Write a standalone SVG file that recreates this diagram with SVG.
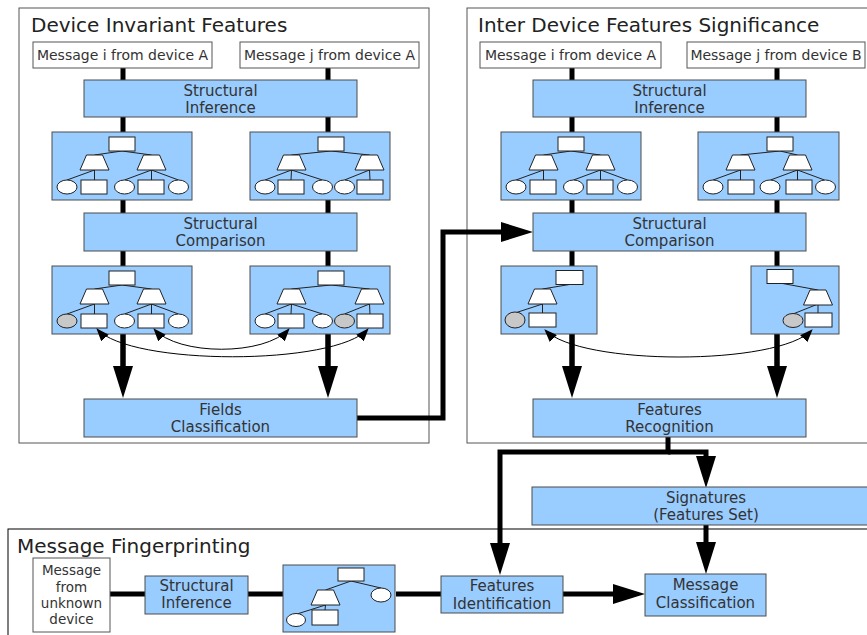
<svg xmlns="http://www.w3.org/2000/svg" xmlns:xlink="http://www.w3.org/1999/xlink" width="867" height="635" viewBox="0 0 867 635">
<style>
.frame{fill:#fff;stroke:#555;stroke-width:1}
.msg{fill:#fff;stroke:#555;stroke-width:1}
.blue{fill:#99ccff;stroke:#4d4d4d;stroke-width:1}
.tbox{fill:#99ccff;stroke:#4d4d4d;stroke-width:1}
.sh{fill:#fff;stroke:#222;stroke-width:1}
.gr{fill:#c8c8c8;stroke:#222;stroke-width:1}
.tl{fill:none;stroke:#222;stroke-width:1}
.thick{fill:none;stroke:#000;stroke-width:5;stroke-linejoin:miter}
.thin{fill:none;stroke:#000;stroke-width:1}
text{font-family:"DejaVu Sans","Noto Sans",sans-serif;fill:#333}
.title{font-size:20px;fill:#222}
.t14{font-size:14px}
.t15{font-size:15px;text-anchor:middle}
.t13{font-size:13.5px;text-anchor:middle}
</style>
<defs>
<polygon id="trap" points="0,15 29,15 22.5,0 6.5,0" class="sh"/>
<marker id="big" markerUnits="userSpaceOnUse" viewBox="0 0 32 20" markerWidth="32" markerHeight="20" refX="0" refY="10" orient="auto">
<path d="M0,0 L32,10 L0,20 z" fill="#000"/>
</marker>
<marker id="sm" markerUnits="userSpaceOnUse" viewBox="0 0 13 10" markerWidth="13" markerHeight="10" refX="12" refY="5" orient="auto-start-reverse">
<path d="M0,0 L13,5 L0,10 z" fill="#000"/>
</marker>
</defs>

<!-- frames -->
<g id="panel-device-invariant">
<rect class="frame" x="19" y="8" width="410" height="435"/>
<text class="title" x="31" y="32">Device Invariant Features</text>
</g>
<g id="panel-inter-device">
<rect class="frame" x="467" y="8" width="410" height="435"/>
<text class="title" x="478" y="32">Inter Device Features Significance</text>
</g>
<g id="panel-fingerprinting">
<rect class="frame" x="8" y="529" width="870" height="120" style="stroke:#000"/>
<text class="title" x="17" y="553">Message Fingerprinting</text>
</g>

<!-- connectors -->
<g id="connectors">
<path class="thick" d="M123,68 V366"/>
<path class="thick" d="M328,68 V366"/>
<path class="thick" d="M572,68 V366"/>
<path class="thick" d="M777,68 V366"/>
<path class="thick" d="M123,334 V366" marker-end="url(#big)"/>
<path class="thick" d="M328,334 V366" marker-end="url(#big)"/>
<path class="thick" d="M572,334 V366" marker-end="url(#big)"/>
<path class="thick" d="M777,334 V366" marker-end="url(#big)"/>
<path class="thick" d="M357,418 H443 V232 H501" marker-end="url(#big)"/>
<path class="thick" d="M668,437 V452 H500 V543" marker-end="url(#big)"/>
<path class="thick" d="M668,452 H706 V456" marker-end="url(#big)"/>
<path class="thick" d="M706,525 V542" marker-end="url(#big)"/>
<path class="thick" d="M563,594 H613" marker-end="url(#big)"/>
<path class="thick" d="M110,594 H146"/>
<path class="thick" d="M248,594 H283"/>
<path class="thick" d="M396,594 H441"/>
</g>

<!-- left panel nodes -->
<g id="msg-i-A-left"><rect class="msg" x="33" y="42" width="179" height="26"/><text class="t14" x="122.5" y="60" text-anchor="middle">Message i from device A</text></g>
<g id="msg-j-A-left"><rect class="msg" x="240" y="42" width="179" height="26"/><text class="t14" x="329.5" y="60" text-anchor="middle">Message j from device A</text></g>
<g id="si-left"><rect class="blue" x="84" y="80" width="273" height="37"/><text class="t15" x="220.5" y="95.5">Structural</text><text class="t15" x="220.5" y="113">Inference</text></g>

<g id="tree-l1a" transform="translate(52,132)">
<rect class="tbox" x="0" y="0" width="140" height="68"/>
<path class="tl" d="M70,19 L42.5,23 M70,19 L99.5,23 M42.5,38 L15,48 M42.5,38 L42.5,48 M99.5,38 L72.5,48 M99.5,38 L99.5,48 M99.5,38 L126.5,48"/>
<rect class="sh" x="57" y="5" width="26" height="14"/>
<use href="#trap" x="28" y="23"/><use href="#trap" x="85" y="23"/>
<ellipse class="sh" cx="15" cy="55" rx="10" ry="7"/><rect class="sh" x="29" y="48" width="26" height="14"/>
<ellipse class="sh" cx="72.5" cy="55" rx="10" ry="7"/><rect class="sh" x="86" y="48" width="26" height="14"/>
<ellipse class="sh" cx="126.5" cy="55" rx="10" ry="7"/>
</g>
<g id="tree-l1b" transform="translate(250,132)">
<rect class="tbox" x="0" y="0" width="140" height="68"/>
<path class="tl" d="M81,19 L41.5,23 M81,19 L119.5,23 M41.5,38 L15,48 M41.5,38 L41,48 M41.5,38 L72.5,48 M119.5,38 L94.5,48 M119.5,38 L120,48"/>
<rect class="sh" x="68" y="5" width="26" height="14"/>
<use href="#trap" x="27" y="23"/><use href="#trap" x="105" y="23"/>
<ellipse class="sh" cx="15" cy="55" rx="10" ry="7"/><rect class="sh" x="28" y="48" width="26" height="14"/>
<ellipse class="sh" cx="72.5" cy="55" rx="10" ry="7"/><ellipse class="sh" cx="94.5" cy="55" rx="10" ry="7"/>
<rect class="sh" x="107" y="48" width="26" height="14"/>
</g>

<g id="sc-left"><rect class="blue" x="84" y="213" width="273" height="38"/><text class="t15" x="220.5" y="228.5">Structural</text><text class="t15" x="220.5" y="246">Comparison</text></g>

<g id="tree-l2a" transform="translate(52,266)">
<rect class="tbox" x="0" y="0" width="140" height="68"/>
<path class="tl" d="M70,19 L42.5,23 M70,19 L99.5,23 M42.5,38 L15,48 M42.5,38 L42.5,48 M99.5,38 L72.5,48 M99.5,38 L99.5,48 M99.5,38 L126.5,48"/>
<rect class="sh" x="57" y="5" width="26" height="14"/>
<use href="#trap" x="28" y="23"/><use href="#trap" x="85" y="23"/>
<ellipse class="gr" cx="15" cy="55" rx="10" ry="7"/><rect class="sh" x="29" y="48" width="26" height="14"/>
<ellipse class="sh" cx="72.5" cy="55" rx="10" ry="7"/><rect class="sh" x="86" y="48" width="26" height="14"/>
<ellipse class="sh" cx="126.5" cy="55" rx="10" ry="7"/>
</g>
<g id="tree-l2b" transform="translate(250,266)">
<rect class="tbox" x="0" y="0" width="140" height="68"/>
<path class="tl" d="M81,19 L41.5,23 M81,19 L119.5,23 M41.5,38 L15,48 M41.5,38 L41,48 M41.5,38 L72.5,48 M119.5,38 L94.5,48 M119.5,38 L120,48"/>
<rect class="sh" x="68" y="5" width="26" height="14"/>
<use href="#trap" x="27" y="23"/><use href="#trap" x="105" y="23"/>
<ellipse class="sh" cx="15" cy="55" rx="10" ry="7"/><rect class="sh" x="28" y="48" width="26" height="14"/>
<ellipse class="sh" cx="72.5" cy="55" rx="10" ry="7"/><ellipse class="gr" cx="94.5" cy="55" rx="10" ry="7"/>
<rect class="sh" x="107" y="48" width="26" height="14"/>
</g>

<g id="links-left">
<path class="thin" d="M97,329 C130,366 335,366 368,329" marker-start="url(#sm)" marker-end="url(#sm)"/>
<path class="thin" d="M154,329 C178,356 265,356 289,329" marker-start="url(#sm)" marker-end="url(#sm)"/>
</g>

<g id="fields-classification"><rect class="blue" x="84" y="399" width="273" height="38"/><text class="t15" x="220.5" y="414.5">Fields</text><text class="t15" x="220.5" y="432">Classification</text></g>

<!-- right panel nodes -->
<g id="msg-i-A-right"><rect class="msg" x="480" y="42" width="181" height="26"/><text class="t14" x="570.5" y="60" text-anchor="middle">Message i from device A</text></g>
<g id="msg-j-B-right"><rect class="msg" x="687" y="42" width="178" height="26"/><text class="t14" x="776" y="60" text-anchor="middle">Message j from device B</text></g>
<g id="si-right"><rect class="blue" x="533" y="80" width="273" height="37"/><text class="t15" x="669.5" y="95.5">Structural</text><text class="t15" x="669.5" y="113">Inference</text></g>

<g id="tree-r1a" transform="translate(501,132)">
<rect class="tbox" x="0" y="0" width="140" height="68"/>
<path class="tl" d="M70,19 L42.5,23 M70,19 L99.5,23 M42.5,38 L15,48 M42.5,38 L42.5,48 M99.5,38 L72.5,48 M99.5,38 L99.5,48 M99.5,38 L126.5,48"/>
<rect class="sh" x="57" y="5" width="26" height="14"/>
<use href="#trap" x="28" y="23"/><use href="#trap" x="85" y="23"/>
<ellipse class="sh" cx="15" cy="55" rx="10" ry="7"/><rect class="sh" x="29" y="48" width="26" height="14"/>
<ellipse class="sh" cx="72.5" cy="55" rx="10" ry="7"/><rect class="sh" x="86" y="48" width="26" height="14"/>
<ellipse class="sh" cx="126.5" cy="55" rx="10" ry="7"/>
</g>
<g id="tree-r1b" transform="translate(698,132)">
<rect class="tbox" x="0" y="0" width="141" height="68"/>
<path class="tl" d="M82,19 L42.5,23 M82,19 L99.5,23 M42.5,38 L15,48 M42.5,38 L42.5,48 M99.5,38 L72.5,48 M99.5,38 L99.5,48 M99.5,38 L126.5,48"/>
<rect class="sh" x="69" y="5" width="26" height="14"/>
<use href="#trap" x="28" y="23"/><use href="#trap" x="85" y="23"/>
<ellipse class="sh" cx="15" cy="55" rx="10" ry="7"/><rect class="sh" x="30" y="48" width="26" height="14"/>
<ellipse class="sh" cx="72" cy="55" rx="10" ry="7"/><rect class="sh" x="88" y="48" width="26" height="14"/>
<ellipse class="sh" cx="127.5" cy="55" rx="10" ry="7"/>
</g>

<g id="sc-right"><rect class="blue" x="533" y="213" width="273" height="38"/><text class="t15" x="669.5" y="228.5">Structural</text><text class="t15" x="669.5" y="246">Comparison</text></g>

<g id="tree-r2a" transform="translate(501,266)">
<rect class="tbox" x="0" y="0" width="96" height="68"/>
<path class="tl" d="M68.5,18.5 L41.5,23 M41.5,38 L14,47 M41.5,38 L41.5,47"/>
<rect class="sh" x="55" y="4.5" width="27" height="14"/>
<use href="#trap" x="27" y="23"/>
<ellipse class="gr" cx="14" cy="54" rx="10" ry="8"/><rect class="sh" x="28" y="47" width="27" height="14"/>
</g>
<g id="tree-r2b" transform="translate(751,266)">
<rect class="tbox" x="0" y="0" width="88" height="68"/>
<path class="tl" d="M29,17 L67,24 M67,38 L42,48 M67,38 L67,47"/>
<rect class="sh" x="16" y="3.5" width="26" height="14"/>
<use href="#trap" x="52.5" y="24"/>
<ellipse class="gr" cx="42" cy="54.5" rx="10" ry="7"/><rect class="sh" x="54" y="47" width="27" height="14"/>
</g>

<g id="links-right">
<path class="thin" d="M545,330 C580,366 778,366 812,330" marker-start="url(#sm)" marker-end="url(#sm)"/>
</g>

<g id="features-recognition"><rect class="blue" x="533" y="399" width="273" height="38"/><text class="t15" x="669.5" y="414.5">Features</text><text class="t15" x="669.5" y="432">Recognition</text></g>

<g id="signatures"><rect class="blue" x="532" y="487" width="340" height="38"/><text class="t15" x="706" y="503">Signatures</text><text class="t15" x="706" y="520">(Features Set)</text></g>

<!-- bottom nodes -->
<g id="msg-unknown"><rect class="msg" x="33" y="558" width="77" height="74"/>
<text class="t13" x="71.5" y="575">Message</text><text class="t13" x="71.5" y="592">from</text><text class="t13" x="71.5" y="608">unknown</text><text class="t13" x="71.5" y="624">device</text></g>
<g id="si-bottom"><rect class="blue" x="145" y="576" width="103" height="38"/><text class="t15" x="196.5" y="591">Structural</text><text class="t15" x="196.5" y="608">Inference</text></g>
<g id="tree-bottom" transform="translate(283,565)">
<rect class="tbox" x="0" y="0" width="112" height="67"/>
<path class="tl" d="M68,16 L42.5,25 M68,16 L98,23 M42.5,40 L14,49 M42.5,40 L42,45"/>
<rect class="sh" x="55" y="3" width="26" height="13"/>
<use href="#trap" x="28" y="25"/>
<ellipse class="sh" cx="98" cy="30" rx="10" ry="7"/>
<ellipse class="sh" cx="13" cy="55" rx="9.5" ry="6.5"/><rect class="sh" x="29" y="45" width="26" height="15"/>
</g>
<g id="features-identification"><rect class="blue" x="441" y="576" width="122" height="37"/><text class="t15" x="502" y="591">Features</text><text class="t15" x="502" y="609">Identification</text></g>
<g id="message-classification"><rect class="blue" x="645" y="574" width="121" height="42"/><text class="t15" x="705.5" y="590">Message</text><text class="t15" x="705.5" y="608">Classification</text></g>
</svg>
